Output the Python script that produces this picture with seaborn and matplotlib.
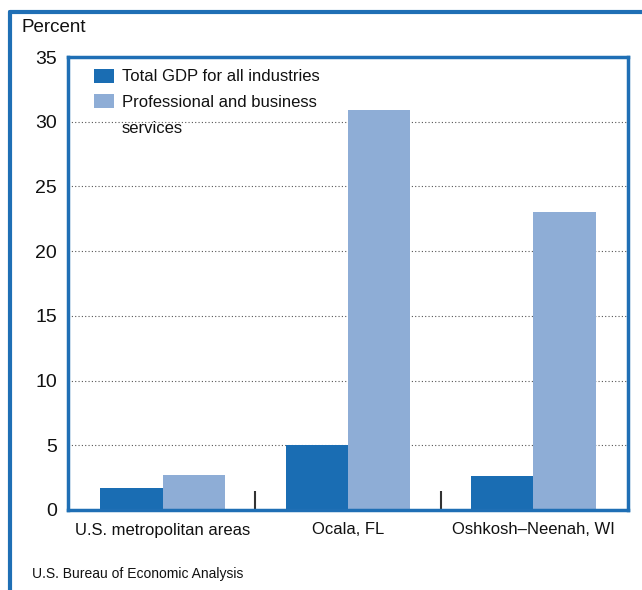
import matplotlib
matplotlib.use("Agg")
import matplotlib.pyplot as plt
import seaborn as sns
import pandas as pd
from matplotlib.lines import Line2D
from matplotlib.patches import Patch

categories = ["U.S. metropolitan areas", "Ocala, FL", "Oshkosh\u2013Neenah, WI"]
series_names = ["Total GDP for all industries", "Professional and business services"]
total_gdp = [1.7, 5.0, 2.6]
prof_business = [2.7, 30.9, 23.0]
y_ticks = [0, 5, 10, 15, 20, 25, 30, 35]

dark = "#1a6db3"
light = "#8eadd6"
frame = "#1f6fb5"

df = pd.DataFrame({
    "category": categories * 2,
    "series": [series_names[0]] * 3 + [series_names[1]] * 3,
    "value": total_gdp + prof_business,
})

sns.set_theme(style="white")
plt.rcParams["font.family"] = ["Liberation Sans", "DejaVu Sans"]

fig = plt.figure(figsize=(6.42, 5.90), dpi=100)
ax = fig.add_axes([68 / 642, 1 - 510 / 590, 560 / 642, 453 / 590])

sns.barplot(data=df, x="category", y="value", hue="series", order=categories,
            hue_order=series_names, palette=[dark, light], width=0.67,
            saturation=1, ax=ax, legend=False, linewidth=0)

ax.set_xlim(-0.51, 2.51)
ax.set_ylim(0, 35)
ax.set_yticks(y_ticks)
ax.set_xlabel("")
ax.set_ylabel("")
for y in y_ticks[1:-1]:
    ax.axhline(y, color="#555555", linestyle=(0, (1, 2)), linewidth=0.8, zorder=0)

for s in ax.spines.values():
    s.set_color(frame)
    s.set_linewidth(2.5)
    s.set_visible(True)

ax.tick_params(axis="y", length=0, labelsize=14, pad=8, colors="#111111")
ax.tick_params(axis="x", which="major", length=0, labelsize=12, pad=9, colors="#111111")
ax.set_xticks([0.5, 1.5], minor=True)
ax.tick_params(axis="x", which="minor", direction="in", length=14, width=1.5,
               color="#333333", bottom=True)

# legend: wrap the long label so that the swatch sits beside its first line
handles = [Patch(facecolor=dark, edgecolor="none"),
           Patch(facecolor=light, edgecolor="none"),
           Patch(facecolor="none", edgecolor="none")]
labels = [series_names[0], "Professional and business", "services"]
leg = ax.legend(handles, labels, loc="upper left", frameon=False, fontsize=12,
                handlelength=1.2, handleheight=0.9, handletextpad=0.5,
                labelspacing=0.6, bbox_to_anchor=(0.025, 1.0), borderaxespad=0.3)
for t in leg.get_texts():
    t.set_color("#111111")

fig.text(22 / 642, 1 - 28 / 590, "Percent", fontsize=13.5, va="center", ha="left", color="#111111")
fig.text(32 / 642, 1 - 574 / 590, "U.S. Bureau of Economic Analysis", fontsize=10,
         va="center", ha="left", color="#111111")

x0 = 10 / 642
ytop = 1 - 12 / 590
fig.add_artist(Line2D([x0, x0], [0, ytop], color=frame, linewidth=3, transform=fig.transFigure))
fig.add_artist(Line2D([x0, 1], [ytop, ytop], color=frame, linewidth=3, transform=fig.transFigure))

fig.savefig("out.png", dpi=100)
